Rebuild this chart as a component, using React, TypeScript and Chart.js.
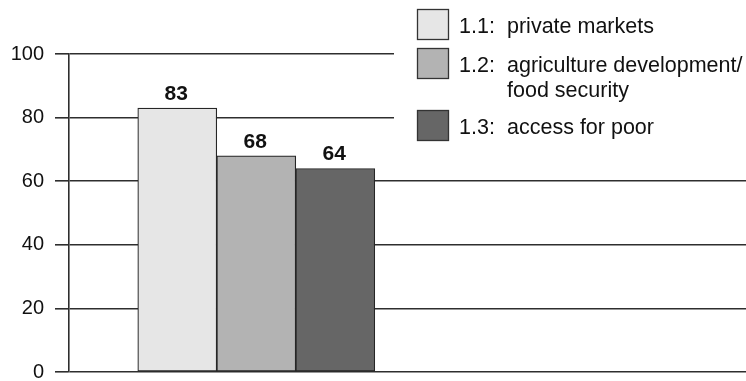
import { useEffect, useRef } from "react";
import { Chart, registerables } from "chart.js";

Chart.register(...registerables);

// One group of bars sits at this index position on the horizontal axis
const groupIndex = [1];
const seriesCodes = ["1.1:", "1.2:", "1.3:"];
const seriesNames = [
  ["private markets"],
  ["agriculture development/", "food security"],
  ["access for poor"],
];
const privateMarkets = [83];
const agricultureFoodSecurity = [68];
const accessForPoor = [64];
const yTickValues = [0, 20, 40, 60, 80, 100];

const FONT = '"Liberation Sans", Arial, sans-serif';
const fills = ["#e6e6e6", "#b3b3b3", "#666666"];
const edge = "#262626";

// Bold value printed above each bar
const valueLabels = {
  id: "valueLabels",
  afterDatasetsDraw(chart: any) {
    const ctx = chart.ctx;
    ctx.save();
    ctx.font = `bold 21px ${FONT}`;
    ctx.fillStyle = "#111";
    ctx.textAlign = "center";
    ctx.textBaseline = "alphabetic";
    chart.data.datasets.forEach((ds: any, i: number) => {
      const meta = chart.getDatasetMeta(i);
      meta.data.forEach((bar: any, j: number) => {
        const v = ds.data[j].y;
        ctx.fillText(String(v), bar.x - 1, bar.y - 8);
      });
    });
    ctx.restore();
  },
};

// Legend in the upper right, on a white panel over the grid
const sideLegend = {
  id: "sideLegend",
  afterDraw(chart: any) {
    const ctx = chart.ctx;
    ctx.save();
    ctx.fillStyle = "#ffffff";
    ctx.fillRect(394, 0, chart.width - 394, 150);
    ctx.font = `21.5px ${FONT}`;
    ctx.textAlign = "left";
    ctx.textBaseline = "alphabetic";
    let top = 9;
    chart.data.datasets.forEach((ds: any, i: number) => {
      ctx.fillStyle = ds.backgroundColor;
      ctx.fillRect(417, top, 31, 30);
      ctx.strokeStyle = "#333";
      ctx.lineWidth = 1.3;
      ctx.strokeRect(417.5, top + 0.5, 31, 30);
      ctx.fillStyle = "#111";
      const base = top + 24;
      ctx.fillText(seriesCodes[i], 459, base);
      seriesNames[i].forEach((line, k) => {
        ctx.fillText(line, 507, base + k * 25);
      });
      top += 39 + (seriesNames[i].length - 1) * 23;
    });
    ctx.restore();
  },
};

export default function App() {
  const ref = useRef<HTMLCanvasElement>(null);

  useEffect(() => {
    if (!ref.current) return;
    const series = [privateMarkets, agricultureFoodSecurity, accessForPoor];
    const chart = new Chart(ref.current, {
      type: "bar",
      data: {
        datasets: series.map((vals, i) => ({
          label: `${seriesCodes[i]} ${seriesNames[i].join(" ")}`,
          data: vals.map((v, j) => ({ x: groupIndex[j], y: v })),
          backgroundColor: fills[i],
          borderColor: edge,
          borderWidth: 1.2,
          borderSkipped: false,
          barThickness: 79,
        })),
      },
      options: {
        animation: false,
        responsive: false,
        devicePixelRatio: 1,
        layout: { padding: { top: 54, bottom: 9, left: 0, right: 0 } },
        plugins: {
          legend: { display: false },
          tooltip: { enabled: false },
        },
        scales: {
          x: {
            type: "linear",
            display: false,
            offset: false,
            min: 0,
            max: 3.615,
          },
          y: {
            min: 0,
            max: 100,
            afterBuildTicks: (scale: any) => {
              scale.ticks = yTickValues.map((v) => ({ value: v }));
            },
            afterFit: (scale: any) => {
              scale.width = 69;
              scale.paddingTop = 0;
              scale.paddingBottom = 0;
            },
            grid: {
              color: "#2e2e2e",
              lineWidth: 1.6,
              tickLength: 14,
              drawTicks: true,
            },
            border: { display: true, color: "#2e2e2e", width: 1.6 },
            ticks: {
              padding: 11,
              color: "#111",
              font: { family: FONT, size: 20 },
            },
          },
        },
      },
      plugins: [valueLabels, sideLegend],
    } as any);
    return () => chart.destroy();
  }, []);

  return (
    <div style={{ position: "fixed", left: 0, top: 0, width: 746, height: 381, background: "#fff" }}>
      <canvas ref={ref} width={746} height={381} style={{ display: "block", width: 746, height: 381 }} />
    </div>
  );
}
